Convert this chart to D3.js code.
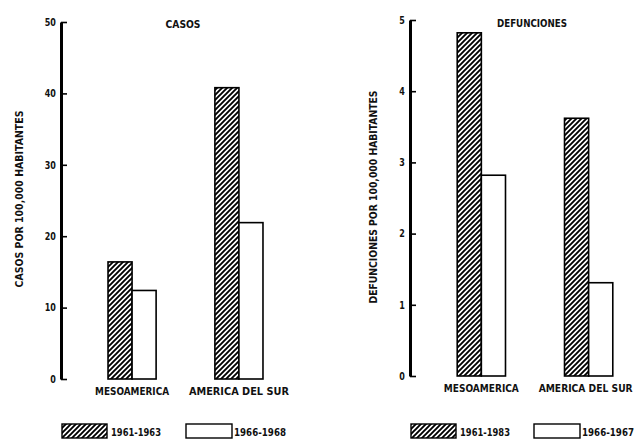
<!DOCTYPE html>
<html lang="es">
<head>
<meta charset="utf-8">
<script src="https://d3js.org/d3.v7.min.js"></script>
<style>
  body { margin: 0; background: #fff; }
  text { font-family: "DejaVu Sans Condensed", "Liberation Sans", sans-serif; font-weight: bold; fill: #111; }
</style>
</head>
<body>
<script>
// data
var regions = ["MESOAMERICA", "AMERICA DEL SUR"];
var casos6163 = [16.4, 40.8];
var casos6668 = [12.4, 21.9];
var defun6163 = [4.82, 3.62];
var defun6667 = [2.82, 1.31];
var casosTicks = [0, 10, 20, 30, 40, 50];
var defunTicks = [0, 1, 2, 3, 4, 5];

var width = 638, height = 440;

var svg = d3.select("body").append("svg")
  .attr("width", width)
  .attr("height", height);

// diagonal hatch for the first period
var pat = svg.append("defs").append("pattern")
  .attr("id", "hatch")
  .attr("patternUnits", "userSpaceOnUse")
  .attr("width", 5).attr("height", 5);
pat.append("rect").attr("width", 5).attr("height", 5).attr("fill", "#fff");
pat.append("path")
  .attr("d", "M-1,1 l2,-2 M0,5 l5,-5 M4,6 l2,-2")
  .attr("stroke", "#000").attr("stroke-width", 1.9);

// squeeze lettering into the narrow width of the original
function squeeze(sel, w) {
  sel.attr("textLength", w).attr("lengthAdjust", "spacingAndGlyphs");
}

function panel(opt) {
  var g = svg.append("g");

  var x = d3.scaleBand().domain(regions)
    .range(opt.xRange).paddingInner(0.55).paddingOuter(0.44);
  var xs = d3.scaleBand().domain([0, 1]).range([0, x.bandwidth()]);
  var y = d3.scaleLinear().domain(opt.yDomain).range(opt.yRange);

  // bars
  var series = [opt.a, opt.b];
  series.forEach(function(vals, s) {
    g.selectAll(".bar" + s)
      .data(vals)
      .join("rect")
      .attr("x", function(d, i) { return x(regions[i]) + xs(s); })
      .attr("y", function(d) { return y(d); })
      .attr("width", xs.bandwidth())
      .attr("height", function(d) { return y(0) - y(d); })
      .attr("fill", s === 0 ? "url(#hatch)" : "#fff")
      .attr("stroke", "#000")
      .attr("stroke-width", 1.6);
  });

  // y axis, ticks pointing inward
  var ax = g.append("g")
    .attr("transform", "translate(" + opt.xRange[0] + ",0)")
    .call(d3.axisLeft(y).tickValues(opt.ticks).tickFormat(d3.format("d"))
      .tickSizeInner(-6).tickSizeOuter(0).tickPadding(6));
  ax.select(".domain").attr("stroke", "#000").attr("stroke-width", 3);
  ax.selectAll(".tick line").attr("stroke", "#000").attr("stroke-width", 1.6);
  ax.selectAll(".tick text").attr("font-size", 10.5)
    .attr("font-family", "DejaVu Sans Condensed").attr("font-weight", "bold")
    .attr("transform", "scale(0.85,1)");

  // category labels
  var cats = g.selectAll(".cat")
    .data(regions)
    .join("text")
    .attr("x", function(d) { return x(d) + x.bandwidth() / 2; })
    .attr("dx", function(d, i) { return opt.catDx[i]; })
    .attr("y", opt.catY)
    .attr("text-anchor", "middle")
    .attr("font-size", 10)
    .text(function(d) { return d; });
  cats.each(function(d, i) { squeeze(d3.select(this), opt.catW[i]); });

  // title
  g.append("text")
    .attr("x", opt.titleX).attr("y", opt.titleY)
    .attr("text-anchor", "middle")
    .attr("font-size", 10)
    .text(opt.title)
    .call(squeeze, opt.titleW);

  // y axis title
  g.append("text")
    .attr("transform", "translate(" + opt.labX + "," + opt.labY + ") rotate(-90)")
    .attr("text-anchor", "middle")
    .attr("font-size", 10)
    .text(opt.yLabel)
    .call(squeeze, opt.labW);

  // legend
  var lg = g.append("g");
  lg.append("rect")
    .attr("x", opt.leg[0]).attr("y", 424).attr("width", 45).attr("height", 14)
    .attr("fill", "url(#hatch)").attr("stroke", "#000").attr("stroke-width", 1.4);
  lg.append("text")
    .attr("x", opt.leg[0] + 49).attr("y", 436)
    .attr("font-size", 10).text(opt.legA).call(squeeze, 50);
  lg.append("rect")
    .attr("x", opt.leg[1]).attr("y", 424).attr("width", 46).attr("height", 14)
    .attr("fill", "#fff").attr("stroke", "#000").attr("stroke-width", 1.4);
  lg.append("text")
    .attr("x", opt.leg[1] + 48).attr("y", 436)
    .attr("font-size", 10).text(opt.legB).call(squeeze, 52);
}

panel({
  xRange: [61, 310], yDomain: [0, 50], yRange: [379, 22], ticks: casosTicks,
  a: casos6163, b: casos6668,
  title: "CASOS", titleX: 183, titleY: 28, titleW: 35,
  yLabel: "CASOS POR 100,000 HABITANTES", labX: 23, labY: 199, labW: 177,
  catY: 395, catW: [74, 100], catDx: [0, 0],
  leg: [62, 186], legA: "1961-1963", legB: "1966-1968"
});

panel({
  xRange: [410, 660], yDomain: [0, 5], yRange: [376, 20], ticks: defunTicks,
  a: defun6163, b: defun6667,
  title: "DEFUNCIONES", titleX: 532, titleY: 27, titleW: 70,
  yLabel: "DEFUNCIONES POR 100,000 HABITANTES", labX: 377, labY: 197, labW: 213,
  catY: 392, catW: [75, 94], catDx: [0, -3],
  leg: [411, 534], legA: "1961-1983", legB: "1966-1967"
});
</script>
</body>
</html>
